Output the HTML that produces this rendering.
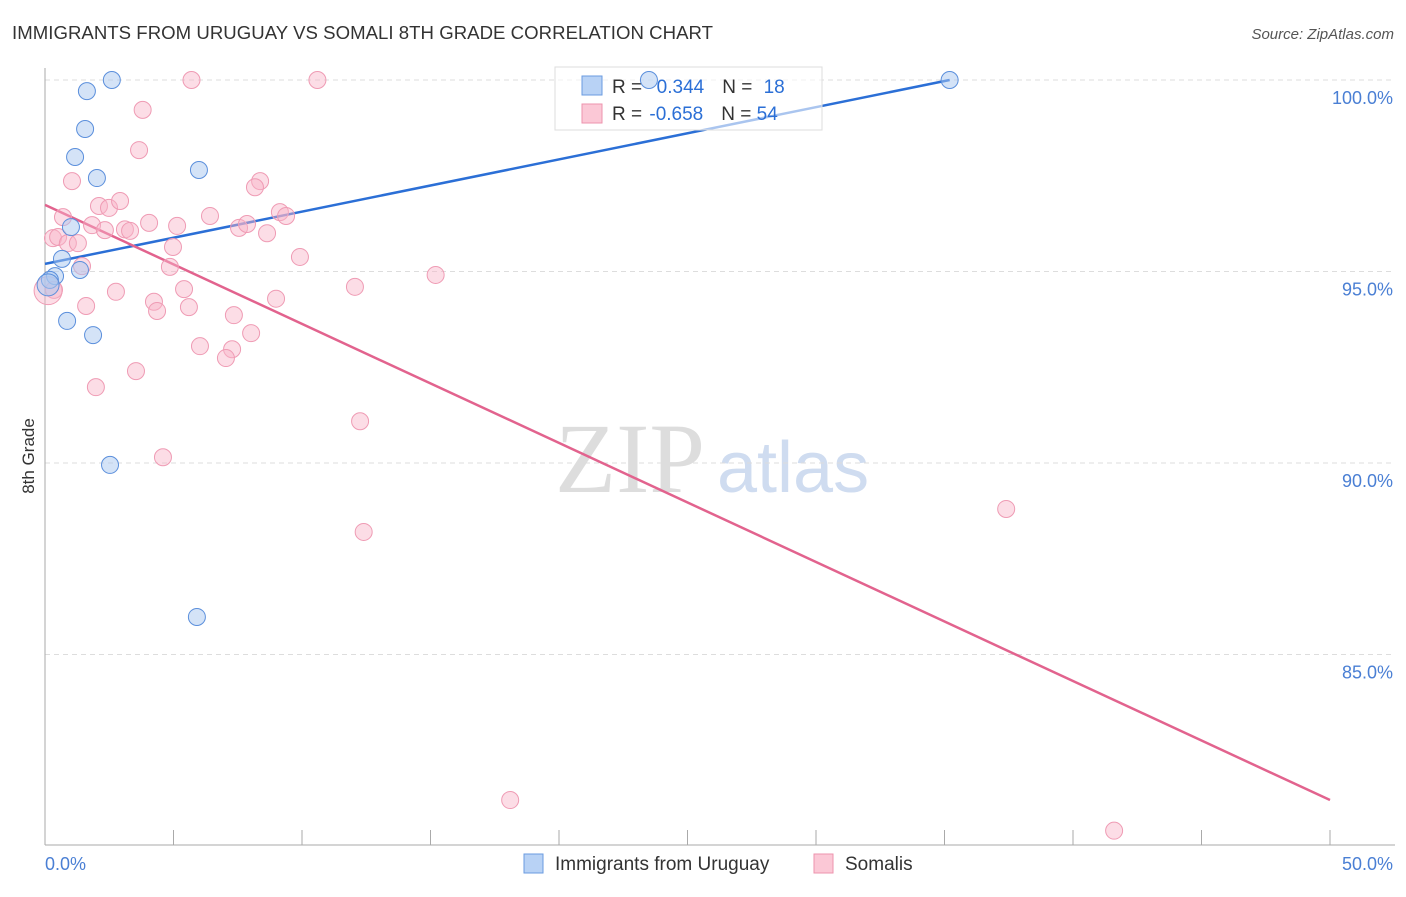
<!DOCTYPE html>
<html><head><meta charset="utf-8"><style>
body{margin:0;background:#fff;font-family:"Liberation Sans",sans-serif}
</style></head><body>
<svg id="c" width="1406" height="892" xmlns="http://www.w3.org/2000/svg" font-family="Liberation Sans, sans-serif">
<text x="12" y="39" font-size="18.6" fill="#333" textLength="701">IMMIGRANTS FROM URUGUAY VS SOMALI 8TH GRADE CORRELATION CHART</text>
<text x="1394" y="39" font-size="15" fill="#555" text-anchor="end" font-style="italic">Source: ZipAtlas.com</text>
<text transform="translate(34,456) rotate(-90)" font-size="17" fill="#333" text-anchor="middle">8th Grade</text>
<text x="555" y="492" font-size="100" fill="#ddd" font-family="Liberation Serif, serif">ZIP</text>
<text x="717" y="492" font-size="72" fill="#cfdcf0">atlas</text>
<g id="grid"></g><g id="axes"></g><g id="lines"></g>
<g>
<rect x="555" y="67" width="267" height="63" fill="rgba(255,255,255,0.6)" stroke="#ddd"/>
<rect x="582" y="76" width="20" height="19" fill="#b8d2f5" stroke="#6a9be0"/>
<rect x="582" y="104" width="20" height="19" fill="#fbc8d6" stroke="#ee93ad"/>
<text x="612" y="93" font-size="19" fill="#333">R = <tspan fill="#2b6fd6" dx="4">&#160;0.344</tspan><tspan dx="18">N = </tspan><tspan fill="#2b6fd6" dx="6">18</tspan></text>
<text x="612" y="120" font-size="19" fill="#333">R = <tspan fill="#2b6fd6" dx="2">-0.658</tspan><tspan dx="18">N = </tspan><tspan fill="#2b6fd6">54</tspan></text>
</g>
<g id="pts"></g>
<g>
<rect x="524" y="854" width="19" height="19" fill="#b8d2f5" stroke="#6a9be0"/>
<text x="555" y="870" font-size="19" fill="#333">Immigrants from Uruguay</text>
<rect x="814" y="854" width="19" height="19" fill="#fbc8d6" stroke="#ee93ad"/>
<text x="845" y="870" font-size="19" fill="#333">Somalis</text>
</g>
</svg>
<script>
const yTicks=[100,95,90,85];
const yTickLabels=["100.0%","95.0%","90.0%","85.0%"];
const xTickLabels=["0.0%","50.0%"];
const blueX=[2.6,1.63,1.56,1.17,2.02,5.99,1.01,0.66,1.36,0.39,0.19,0.86,1.87,2.53,5.91,35.2,23.5,0.12];
const blueY=[100,99.71,98.72,97.99,97.44,97.65,96.16,95.33,95.04,94.88,94.78,93.71,93.34,89.95,85.98,100,100,94.65];
const pinkX=[5.7,10.6,3.8,3.66,1.05,8.37,8.17,2.1,2.49,2.92,0.7,1.83,2.33,3.11,3.31,4.05,5.14,6.42,7.55,7.86,8.64,9.14,9.38,0.31,0.51,0.89,1.28,4.98,4.86,9.92,1.44,15.2,12.06,0.35,2.76,5.41,1.6,4.24,4.36,5.6,8.99,7.35,8.02,6.03,7.28,7.04,3.54,1.98,12.26,4.59,37.4,12.4,18.1,41.6,0.12];
const pinkY=[100,100,99.22,98.17,97.36,97.36,97.2,96.71,96.66,96.84,96.42,96.21,96.08,96.1,96.06,96.27,96.19,96.45,96.14,96.24,96.0,96.55,96.45,95.87,95.9,95.74,95.74,95.64,95.12,95.38,95.14,94.91,94.6,94.52,94.47,94.54,94.1,94.21,93.97,94.07,94.29,93.86,93.39,93.05,92.97,92.74,92.4,91.98,91.09,90.15,88.8,88.2,81.2,80.4,94.5];
const blueFit=[95.2,100], blueFitX=[0,35.2];
const pinkFit=[96.74,81.2], pinkFitX=[0,50];
const X=v=>45+v*25.7, Y=v=>80+(100-v)*38.3;
const NS="http://www.w3.org/2000/svg";
function mk(p,t,a){const e=document.createElementNS(NS,t);for(const k in a)e.setAttribute(k,a[k]);document.getElementById(p).appendChild(e);return e;}
yTicks.forEach((t,i)=>{
 const l=mk('grid','line',{x1:45,x2:1395,y1:Y(t),y2:Y(t),stroke:'#ddd','stroke-dasharray':'5,4'});
 
 
 const tx=mk('grid','text',{x:1393,y:Y(t)+24,'font-size':18,fill:'#4a7fd4','text-anchor':'end'});
 tx.textContent=yTickLabels[i];
 
 
});
let a=mk('axes','line',{x1:45,x2:45,y1:68,y2:845,stroke:'#aaa'});


a=mk('axes','line',{x1:45,x2:1395,y1:845,y2:845,stroke:'#aaa'});


for(let v=0;v<=50;v+=5){const t=mk('axes','line',{x1:X(v),x2:X(v),y1:830,y2:845,stroke:'#aaa'});
 
 }
xTickLabels.forEach((s,i)=>{const t=mk('axes','text',{x:i?1393:45,y:870,'font-size':18,fill:'#4a7fd4','text-anchor':i?'end':'start'});t.textContent=s;
 
 });
pinkX.forEach((x,i)=>{const c=mk('pts','circle',{cx:X(x),cy:Y(pinkY[i]),r:i==pinkX.length-1?14:8.5,fill:'rgba(248,180,200,0.45)',stroke:'#ef9bb4','stroke-width':1});
 
 });
blueX.forEach((x,i)=>{const c=mk('pts','circle',{cx:X(x),cy:Y(blueY[i]),r:i==blueX.length-1?11:8.5,fill:'rgba(170,200,240,0.5)',stroke:'#5b8fdc','stroke-width':1});
 
 });
let l=mk('lines','line',{x1:X(blueFitX[0]),y1:Y(blueFit[0]),x2:X(blueFitX[1]),y2:Y(blueFit[1]),stroke:'#2b6fd6','stroke-width':2.5});


l=mk('lines','line',{x1:X(pinkFitX[0]),y1:Y(pinkFit[0]),x2:X(pinkFitX[1]),y2:Y(pinkFit[1]),stroke:'#e2638e','stroke-width':2.5});


</script>
</body></html>
